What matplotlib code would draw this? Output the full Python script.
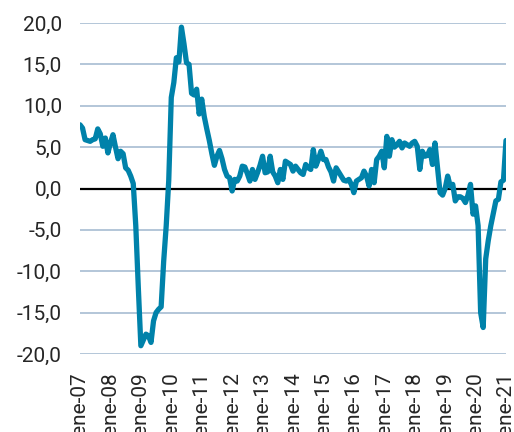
import matplotlib
matplotlib.use('Agg')
import matplotlib.pyplot as plt
from matplotlib.ticker import FuncFormatter, FixedLocator

# monthly series, ene-07 .. ene-21
values = [
    7.7, 7.3, 5.9, 5.8, 5.7, 5.9, 6.0, 7.2, 6.6, 5.1, 6.1, 4.3,      # 2007
    5.5, 6.5, 5.0, 3.6, 4.5, 4.2, 2.5, 2.2, 1.5, 0.6, -4.5, -12.0,   # 2008
    -19.0, -18.3, -17.6, -17.8, -18.6, -16.0, -15.0, -14.6, -14.3, -8.8, -4.5, 1.0,  # 2009
    11.0, 12.8, 15.8, 15.3, 19.5, 17.5, 15.2, 15.0, 11.5, 11.3, 12.0, 9.0,  # 2010
    10.8, 8.7, 7.2, 5.8, 4.2, 2.8, 3.9, 4.6, 3.6, 2.3, 1.5, 1.3,     # 2011
    -0.3, 1.1, 0.9, 1.5, 2.7, 2.6, 1.8, 0.9, 2.3, 1.1, 1.9, 2.8,     # 2012
    3.9, 1.9, 2.0, 3.9, 2.0, 1.5, 0.7, 2.3, 1.1, 3.3, 3.1, 2.9,      # 2013
    2.1, 2.7, 2.3, 1.9, 1.7, 2.9, 2.5, 2.3, 4.7, 2.7, 3.5, 4.5,      # 2014
    3.5, 3.5, 2.6, 2.0, 0.9, 2.5, 2.0, 1.5, 1.0, 0.9, 1.1, 0.5,      # 2015
    -0.5, 0.9, 1.1, 1.3, 2.1, 1.5, 0.3, 2.3, 0.7, 3.5, 3.9, 4.5,     # 2016
    2.5, 6.3, 3.9, 5.9, 5.0, 5.3, 5.7, 4.9, 5.5, 5.3, 5.1, 5.5,      # 2017
    5.7, 5.1, 2.3, 4.5, 3.9, 4.0, 4.7, 2.9, 5.5, 2.5, -0.5, -0.8,    # 2018
    0.0, 1.5, 0.3, 0.5, -1.5, -1.0, -1.0, -1.2, -1.7, -0.8, 0.5, -3.1,  # 2019
    -2.1, -4.5, -15.0, -16.8, -8.5, -6.3, -4.5, -3.0, -1.5, -1.3, 0.8, 1.0,  # 2020
    5.8,                                                             # 2021
]
years = list(range(7, 22))
tick_labels = ['ene-%02d' % y for y in years]
y_ticks = [-20, -15, -10, -5, 0, 5, 10, 15, 20]

line_color = '#0082AA'
grid_color = '#B3C6D8'
text_color = '#262626'


def main():
    plt.rcParams['font.family'] = ['Roboto', 'DejaVu Sans']
    fig = plt.figure(figsize=(5.14, 4.32), dpi=100)
    ax = fig.add_axes([80 / 514, 1 - 354 / 432, 426 / 514, 331 / 432])

    x = list(range(len(values)))
    for v in y_ticks:
        if v != 0:
            ax.axhline(v, color=grid_color, lw=1.4, zorder=1)
    ax.axhline(0, color='black', lw=1.6, zorder=2)
    ax.plot(x, values, color=line_color, lw=3.8, solid_joinstyle='round',
            solid_capstyle='round', zorder=3)

    ax.set_xlim(0, len(values) - 1)
    ax.set_ylim(-20, 20)
    ax.xaxis.set_major_locator(FixedLocator([12 * i for i in range(len(years))]))
    ax.set_xticklabels(tick_labels, rotation=90, fontsize=15,
                       color=text_color, va='top', ha='center')
    ax.set_yticks(y_ticks)
    ax.yaxis.set_major_formatter(FuncFormatter(lambda v, p: ('%.1f' % v).replace('.', ',')))
    for lab in ax.get_yticklabels():
        lab.set_fontsize(15)
        lab.set_color(text_color)

    ax.tick_params(axis='x', length=0, pad=13)
    ax.tick_params(axis='y', length=0, pad=13)
    for s in ax.spines.values():
        s.set_visible(False)

    fig.savefig('out.png', dpi=100)


if __name__ == "__main__":
    main()
